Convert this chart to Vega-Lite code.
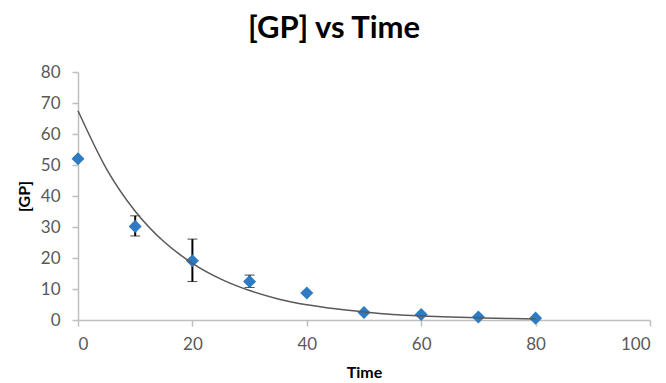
{
  "$schema": "https://vega.github.io/schema/vega-lite/v6.json",
  "width": 572,
  "height": 248,
  "autosize": {"type": "none"},
  "padding": {"left": 78, "top": 72, "right": 16, "bottom": 63},
  "background": "white",
  "title": {
    "text": "[GP] vs Time",
    "font": "Lato",
    "fontSize": 31,
    "fontWeight": "bold",
    "color": "#000000",
    "anchor": "middle",
    "dx": -30,
    "offset": 18
  },
  "config": {
    "view": {"stroke": null},
    "axis": {
      "grid": false,
      "domainColor": "#bfbfbf",
      "domainWidth": 1.5,
      "tickColor": "#bfbfbf",
      "tickWidth": 1.5,
      "tickSize": 6,
      "labelFont": "Lato",
      "labelFontSize": 17,
      "labelColor": "#595959",
      "labelOverlap": false,
      "titleFont": "Lato",
      "titleFontSize": 16,
      "titleFontWeight": "bold",
      "titleColor": "#000000"
    }
  },
  "datasets": {
    "pts": [
      {"t": 0, "gp": 52},
      {"t": 10, "gp": 30.2, "lo": 27.1, "hi": 33.6},
      {"t": 20, "gp": 19.1, "lo": 12.4, "hi": 26.1},
      {"t": 30, "gp": 12.4, "lo": 10.5, "hi": 14.5},
      {"t": 40, "gp": 8.7},
      {"t": 50, "gp": 2.4},
      {"t": 60, "gp": 1.8},
      {"t": 70, "gp": 1.0},
      {"t": 80, "gp": 0.6}
    ],
    "curve": [
      {"t": 0, "fit": 67.5},
      {"t": 5, "fit": 48.7},
      {"t": 10, "fit": 35.1},
      {"t": 15, "fit": 25.3},
      {"t": 20, "fit": 18.3},
      {"t": 25, "fit": 13.2},
      {"t": 30, "fit": 9.5},
      {"t": 35, "fit": 6.8},
      {"t": 40, "fit": 4.9},
      {"t": 45, "fit": 3.6},
      {"t": 50, "fit": 2.6},
      {"t": 55, "fit": 1.8},
      {"t": 60, "fit": 1.3},
      {"t": 65, "fit": 0.95},
      {"t": 70, "fit": 0.7},
      {"t": 75, "fit": 0.5},
      {"t": 80, "fit": 0.36}
    ]
  },
  "layer": [
    {
      "data": {"name": "pts"},
      "transform": [{"filter": "isValid(datum.lo)"}],
      "mark": {"type": "errorbar", "ticks": {"size": 10, "color": "#000000", "strokeWidth": 2}, "rule": {"color": "#000000", "strokeWidth": 2}},
      "encoding": {
        "x": {
          "field": "t", "type": "quantitative",
          "scale": {"domain": [0, 100], "nice": false},
          "axis": {"title": "Time", "values": [0, 20, 40, 60, 80, 100], "labelPadding": 10, "titlePadding": 12}
        },
        "y": {
          "field": "lo", "type": "quantitative",
          "scale": {"domain": [0, 80], "nice": false},
          "axis": {"title": "[GP]", "values": [0, 10, 20, 30, 40, 50, 60, 70, 80], "labelPadding": 12, "titlePadding": 8}
        },
        "y2": {"field": "hi"}
      }
    },
    {
      "data": {"name": "pts"},
      "mark": {"type": "point", "shape": "diamond", "filled": true, "size": 170, "color": "#2E7BC4", "opacity": 1},
      "encoding": {
        "x": {"field": "t", "type": "quantitative", "axis": {"title": "Time", "values": [0, 20, 40, 60, 80, 100], "labelPadding": 10, "titlePadding": 12}},
        "y": {"field": "gp", "type": "quantitative", "axis": {"title": "[GP]", "values": [0, 10, 20, 30, 40, 50, 60, 70, 80], "labelPadding": 12, "titlePadding": 8}}
      }
    },
    {
      "data": {"name": "curve"},
      "mark": {"type": "line", "interpolate": "monotone", "color": "#595959", "strokeWidth": 1.5},
      "encoding": {
        "x": {"field": "t", "type": "quantitative", "axis": {"title": "Time", "values": [0, 20, 40, 60, 80, 100], "labelPadding": 10, "titlePadding": 12}},
        "y": {"field": "fit", "type": "quantitative", "axis": {"title": "[GP]", "values": [0, 10, 20, 30, 40, 50, 60, 70, 80], "labelPadding": 12, "titlePadding": 8}}
      }
    }
  ]
}
